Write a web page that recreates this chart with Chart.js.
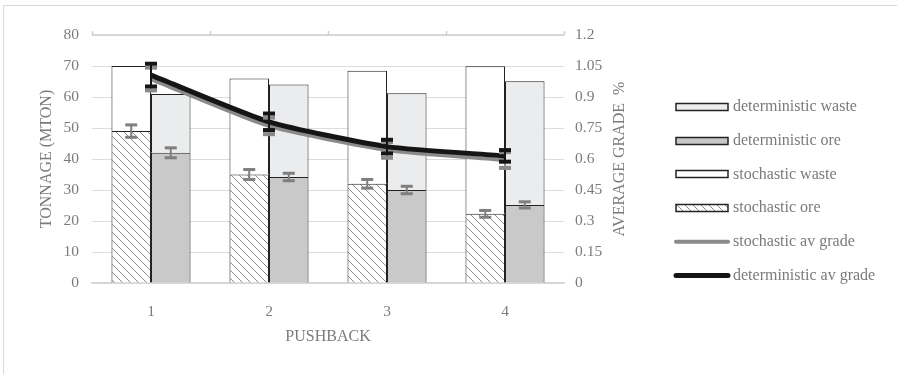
<!DOCTYPE html>
<html><head><meta charset="utf-8">
<script src="https://cdn.jsdelivr.net/npm/chart.js@4"></script>
<style>html,body{margin:0;padding:0;background:#fff}#wrap{width:897px;height:374px;position:relative}</style>
</head><body><div id="wrap"><canvas id="c"></canvas></div>
<script>
// ---- data ----
const categories = ['1', '2', '3', '4'];
const stochasticOre = [49, 35, 32, 22.3];
const stochasticWaste = [21, 31, 36.5, 47.6];
const deterministicOre = [42, 34.2, 30, 25.2];
const deterministicWaste = [19, 29.8, 31.2, 39.9];
const stochasticOreErr = [2.0, 1.6, 1.4, 1.1];
const deterministicOreErr = [1.6, 1.2, 1.2, 1.0];
const stochasticGrade = [0.987, 0.76, 0.644, 0.595];
const deterministicGrade = [1.006, 0.78, 0.66, 0.615];
const stochasticGradeErr = [0.055, 0.04, 0.038, 0.038];
const deterministicGradeErr = [0.055, 0.04, 0.033, 0.028];
const leftTicks = [0, 10, 20, 30, 40, 50, 60, 70, 80];
const rightTicks = [0, 0.15, 0.3, 0.45, 0.6, 0.75, 0.9, 1.05, 1.2];
const rightTitle = 'AVERAGE GRADE  %';
const legendLabels = ['deterministic waste', 'deterministic ore', 'stochastic waste', 'stochastic ore', 'stochastic av grade', 'deterministic av grade'];

const FONT = "'Liberation Serif', 'Times New Roman', serif";
const TXT = '#7b7b7b';
const GRID = '#dcdcdc';

function hatch() {
  const c = document.createElement('canvas'); c.width = 8; c.height = 8;
  const x = c.getContext('2d');
  x.fillStyle = '#fff'; x.fillRect(0, 0, 8, 8);
  x.strokeStyle = '#8a8a8a'; x.lineWidth = 1;
  x.beginPath();
  x.moveTo(0, 0); x.lineTo(8, 8);
  x.moveTo(-1, 7); x.lineTo(1, 9);
  x.moveTo(7, -1); x.lineTo(9, 1);
  x.stroke();
  return x.createPattern(c, 'repeat');
}
const HATCH = hatch();

const frame = {
  id: 'frame',
  beforeDraw(chart) {
    const ctx = chart.ctx;
    ctx.save();
    ctx.strokeStyle = '#d9d9d9'; ctx.lineWidth = 1;
    ctx.strokeRect(3.5, 5.5, 1000, 1000);
    ctx.restore();
  },
  afterDraw(chart) {
    const ctx = chart.ctx, a = chart.chartArea;
    ctx.save();
    ctx.strokeStyle = '#cfcfcf'; ctx.lineWidth = 1.5;
    ctx.beginPath();
    ctx.moveTo(a.left, a.top); ctx.lineTo(a.right, a.top);
    const w = (a.right - a.left) / categories.length;
    for (let i = 0; i <= categories.length; i++) {
      const x = Math.round(a.left + i * w) + 0.5;
      ctx.moveTo(x, a.top); ctx.lineTo(x, a.top - 4);
    }
    ctx.stroke();
    // right axis title, reading bottom to top
    const s = chart.scales.y1;
    ctx.translate(620, (s.top + s.bottom) / 2);
    ctx.rotate(-Math.PI / 2);
    ctx.font = '16px ' + FONT;
    ctx.fillStyle = TXT; ctx.textAlign = 'center'; ctx.textBaseline = 'middle';
    ctx.fillText(rightTitle, 0, 0);
    ctx.restore();
  }
};

const errorBars = {
  id: 'errorBars',
  afterDatasetsDraw(chart) {
    const ctx = chart.ctx;
    const y = chart.scales.y, y1 = chart.scales.y1;
    function bar(x, v, e, scale, color, capW, capH, stemW) {
      const top = scale.getPixelForValue(v + e), bot = scale.getPixelForValue(v - e);
      ctx.fillStyle = color;
      ctx.fillRect(x - stemW / 2, top, stemW, bot - top);
      ctx.fillRect(x - capW / 2, top - capH / 2, capW, capH);
      ctx.fillRect(x - capW / 2, bot - capH / 2, capW, capH);
    }
    ctx.save();
    const mS = chart.getDatasetMeta(0), mD = chart.getDatasetMeta(2);
    stochasticOre.forEach((v, i) => bar(mS.data[i].x, v, stochasticOreErr[i], y, '#7f7f7f', 12, 3, 2));
    deterministicOre.forEach((v, i) => bar(mD.data[i].x, v, deterministicOreErr[i], y, '#7f7f7f', 12, 3, 2));
    const mG = chart.getDatasetMeta(4), mB = chart.getDatasetMeta(5);
    stochasticGrade.forEach((v, i) => bar(mG.data[i].x, v, stochasticGradeErr[i], y1, '#8a8a8a', 12, 4, 2));
    deterministicGrade.forEach((v, i) => bar(mB.data[i].x, v, deterministicGradeErr[i], y1, '#151515', 12, 4, 2));
    ctx.restore();
  }
};

const legendPlugin = {
  id: 'customLegend',
  afterDraw(chart) {
    const ctx = chart.ctx;
    const fills = ['#ebeced', '#c9c9c9', '#ffffff', HATCH];
    const x0 = 676, w = 52, tx = 733;
    ctx.save();
    ctx.font = '16px ' + FONT;
    ctx.textBaseline = 'middle';
    legendLabels.forEach((lab, i) => {
      const yc = 107 + i * 33.7;
      if (i < 4) {
        ctx.fillStyle = fills[i];
        ctx.fillRect(x0, Math.round(yc) - 3.5, w, 7);
        ctx.strokeStyle = '#222'; ctx.lineWidth = 1.5;
        ctx.strokeRect(x0, Math.round(yc) - 3.5, w, 7);
      } else {
        ctx.strokeStyle = i === 4 ? '#8a8a8a' : '#151515';
        ctx.lineWidth = i === 4 ? 4 : 5; ctx.lineCap = 'round';
        ctx.beginPath(); ctx.moveTo(x0, yc); ctx.lineTo(x0 + w, yc); ctx.stroke();
      }
      ctx.fillStyle = TXT;
      ctx.fillText(lab, tx, yc);
    });
    ctx.restore();
  }
};

new Chart(document.getElementById('c'), {
  type: 'bar',
  data: {
    labels: categories,
    datasets: [
      { label: 'stochastic ore', data: stochasticOre, stack: 's', backgroundColor: HATCH, borderColor: '#222', borderWidth: 1, order: 2, yAxisID: 'y' },
      { label: 'stochastic waste', data: stochasticWaste, stack: 's', backgroundColor: '#ffffff', borderColor: '#222', borderWidth: 1, order: 2, yAxisID: 'y' },
      { label: 'deterministic ore', data: deterministicOre, stack: 'd', backgroundColor: '#c9c9c9', borderColor: '#222', borderWidth: 1, order: 2, yAxisID: 'y' },
      { label: 'deterministic waste', data: deterministicWaste, stack: 'd', backgroundColor: '#ebeced', borderColor: '#222', borderWidth: 1, order: 2, yAxisID: 'y' },
      { type: 'line', label: 'stochastic av grade', data: stochasticGrade, borderColor: '#8a8a8a', borderWidth: 4, pointRadius: 0, tension: 0.2, order: 1, yAxisID: 'y1' },
      { type: 'line', label: 'deterministic av grade', data: deterministicGrade, borderColor: '#151515', borderWidth: 5, pointRadius: 0, tension: 0.2, order: 0, yAxisID: 'y1' }
    ]
  },
  options: {
    responsive: true, maintainAspectRatio: false, animation: false,
    layout: { padding: { left: 0, right: 260, top: 35, bottom: 0 } },
    plugins: { legend: { display: false }, tooltip: { enabled: false } },
    datasets: { bar: { barPercentage: 1, categoryPercentage: 0.67 } },
    scales: {
      x: {
        stacked: true,
        grid: { display: false },
        border: { display: true, color: '#d4d4d4', width: 1.5 },
        ticks: { color: TXT, font: { family: FONT, size: 15.5 }, padding: 12 },
        title: { display: true, text: 'PUSHBACK', color: TXT, font: { family: FONT, size: 16 }, padding: { top: 0, bottom: 28 } },
        afterFit(s) { s.height = 91; }
      },
      y: {
        stacked: true, position: 'left', min: 0, max: 80,
        afterBuildTicks(s) { s.ticks = leftTicks.map(v => ({ value: v })); },
        grid: { color: GRID, lineWidth: 1, drawTicks: false },
        border: { display: false },
        ticks: { color: TXT, font: { family: FONT, size: 15.5 }, padding: 13 },
        title: { display: true, text: 'TONNAGE (MTON)', color: TXT, font: { family: FONT, size: 16 }, padding: { top: 37, bottom: 0 } },
        afterFit(s) { s.width = 92; }
      },
      y1: {
        position: 'right', min: 0, max: 1.2,
        afterBuildTicks(s) { s.ticks = rightTicks.map(v => ({ value: v })); },
        grid: { display: false, drawTicks: false },
        border: { display: false },
        ticks: { color: TXT, font: { family: FONT, size: 15.5 }, padding: 11, callback: v => String(+v.toFixed(2)) },
        title: { display: false },
        afterFit(s) { s.width = 73; }
      }
    }
  },
  plugins: [frame, errorBars, legendPlugin]
});
</script>
</body></html>
